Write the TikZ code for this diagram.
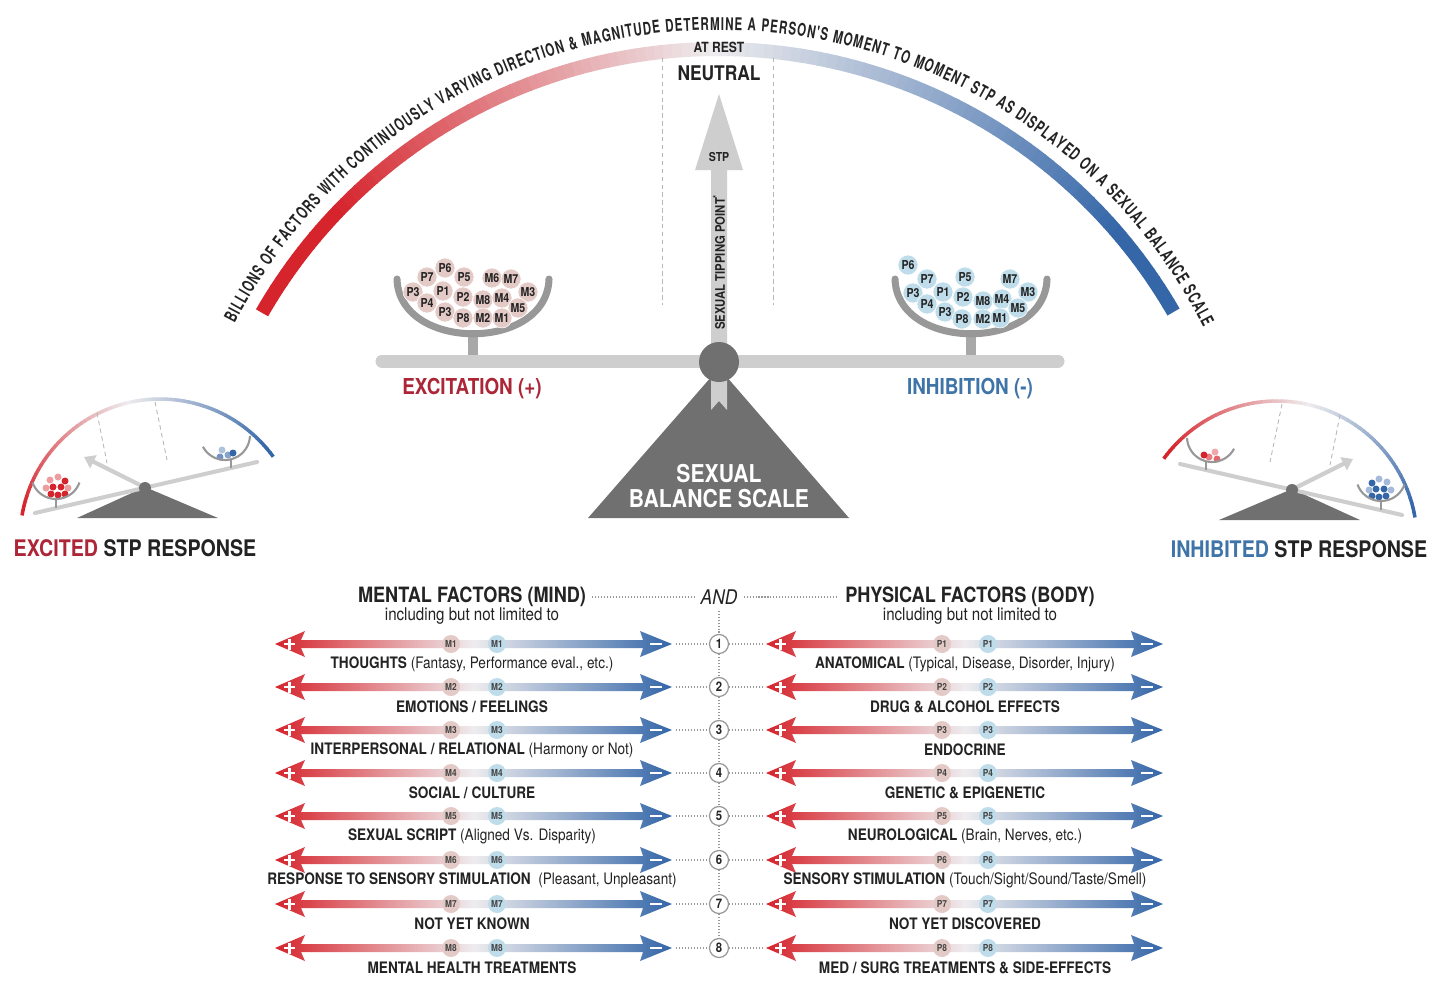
\documentclass[tikz,border=0pt]{standalone}
\usepackage{fontspec}
\setmainfont{TeX Gyre Heros}[FakeStretch=0.86]
\newfontfamily\arcfont{TeX Gyre Heros}[FakeStretch=0.66]
\usepackage{tikz}
\usetikzlibrary{arrows.meta,decorations.text}

\definecolor{exred}{RGB}{214,36,44}
\definecolor{exblue}{RGB}{52,102,168}
\definecolor{midc}{RGB}{238,236,238}
\definecolor{txred}{RGB}{172,38,56}
\definecolor{txblue}{RGB}{62,116,168}
\definecolor{beamgrey}{RGB}{206,206,206}
\definecolor{darkgrey}{RGB}{112,112,112}
\definecolor{bowlgrey}{RGB}{152,152,152}
\definecolor{pinkball}{RGB}{228,202,198}
\definecolor{blueball}{RGB}{190,220,234}
\definecolor{inkgrey}{RGB}{35,35,35}

\tikzset{
  bigball/.style={circle, inner sep=0pt, minimum size=0.4cm, draw=white, line width=0.3pt,
    font=\bfseries\fontsize{7}{7}\selectfont, text=inkgrey},
  rowball/.style={circle, inner sep=0pt, minimum size=0.36cm,
    font=\bfseries\fontsize{5.5}{5.5}\selectfont, text=inkgrey!85},
  numcirc/.style={circle, draw=bowlgrey, line width=0.7pt, fill=white, inner sep=0pt,
    minimum size=0.38cm, font=\bfseries\fontsize{7.5}{7.5}\selectfont},
  rowlabel/.style={font=\fontsize{9}{9}\selectfont, inner sep=1pt},
  dots/.style={draw=bowlgrey, line width=0.6pt, dash pattern=on 0.6pt off 1.1pt},
  guide/.style={draw=bowlgrey!70, line width=0.5pt, dash pattern=on 2.5pt off 2pt},
}

\begin{document}
\begin{tikzpicture}[x=0.02cm, y=-0.02cm, every node/.append style={text=inkgrey}]
\useasboundingbox (0,0) rectangle (1449,981);
\fill[white] (0,0) rectangle (1449,981);

% big meter arc
\foreach \a in {30,...,149}{
  \ifnum\a<90
    \pgfmathtruncatemacro\p{min(100,(90-\a)*2)}
    \fill[exblue!\p!midc] ({718+519*cos(\a)},{575-519*sin(\a)}) -- ({718+533*cos(\a)},{575-533*sin(\a)})
      -- ({718+533*cos(\a+1.1)},{575-533*sin(\a+1.1)}) -- ({718+519*cos(\a+1.1)},{575-519*sin(\a+1.1)}) -- cycle;
  \else
    \pgfmathtruncatemacro\p{min(100,(\a-90)*2.2)}
    \fill[exred!\p!midc] ({718+519*cos(\a)},{575-519*sin(\a)}) -- ({718+533*cos(\a)},{575-533*sin(\a)})
      -- ({718+533*cos(\a+1.1)},{575-533*sin(\a+1.1)}) -- ({718+519*cos(\a+1.1)},{575-519*sin(\a+1.1)}) -- cycle;
  \fi
}
\path[decorate, decoration={text along path, text align=fit to path, text color=inkgrey,
  text={|\arcfont\bfseries\fontsize{10}{10}\selectfont|BILLIONS OF FACTORS WITH CONTINUOUSLY VARYING DIRECTION {\&} MAGNITUDE DETERMINE A PERSON'S MOMENT TO MOMENT STP AS DISPLAYED ON A SEXUAL BALANCE SCALE}}]
  plot[domain=152.5:27, samples=90] ({718+545*cos(\x)},{575-545*sin(\x)});

\node[font=\bfseries\fontsize{8}{8}\selectfont] (rest) at (719,47) {AT REST};
\node[font=\bfseries\fontsize{11.5}{11.5}\selectfont] (neutral) at (719,73) {NEUTRAL};
\draw[guide] (662,58) -- (662,305);
\draw[guide] (773,58) -- (773,305);

% sexual tipping point arrow
\fill[beamgrey] (711,350) -- (711,170) -- (695,170) -- (719,94) -- (743,170) -- (727,170) -- (727,350) -- cycle;
\node[font=\bfseries\fontsize{7}{7}\selectfont] (stp) at (719,157) {STP};
\node[rotate=90, font=\bfseries\fontsize{7.5}{7.5}\selectfont] (tipping) at (719,262) {SEXUAL TIPPING POINT\textsuperscript{*}};

% stand, beam and bowls
\fill[darkgrey] (719,368) -- (849,518) -- (588,518) -- cycle;
\fill[beamgrey] (711,374) -- (727,374) -- (727,410) -- (719,401) -- (711,410) -- cycle;
\draw[bowlgrey!85, line width=5.5pt] (473,332) -- (473,358) (971,332) -- (971,358);
\draw[beamgrey, line width=7.4pt, line cap=round] (382,361) -- (1058,361);
\fill[darkgrey] (719,362) circle (20);
\node[align=center, text=white, font=\bfseries\fontsize{14}{14.5}\selectfont] (sbs) at (719,486) {SEXUAL\\BALANCE SCALE};

\draw[bowlgrey, line width=4pt, line cap=round] (397,279) .. controls (399,352) and (547,352) .. (549,279);
\draw[bowlgrey, line width=4pt, line cap=round] (895,279) .. controls (897,352) and (1045,352) .. (1047,279);
\foreach \lab/\px/\py [count=\i] in {P6/445/268, P7/427/277, P5/464/277, M6/492/278, M7/511/279,
  P3/413/292, P1/443/291, P2/463/297, M8/483/300, M4/502/298, M3/528/292, P4/427/303,
  M5/518/308, P3/445/312, P8/463/318, M2/483/318, M1/502/318}
  \node[bigball, fill=pinkball] (ex\i) at (\px,\py) {\lab};
\foreach \lab/\px/\py [count=\i] in {P6/908/265, P7/927/279, P5/965/277, M7/1010/279,
  P3/913/293, P1/943/292, P2/963/297, M8/983/301, M4/1002/299, M3/1028/292, P4/927/304,
  M5/1018/308, P3/945/312, P8/962/319, M2/983/319, M1/1000/318}
  \node[bigball, fill=blueball] (in\i) at (\px,\py) {\lab};

\node[font=\bfseries\fontsize{12.5}{12.5}\selectfont, text=txred] (excit) at (472,389) {EXCITATION (+)};
\node[font=\bfseries\fontsize{12.5}{12.5}\selectfont, text=txblue] (inhib) at (970,389) {INHIBITION (-)};

% small tilted scales
\foreach \sx/\dx/\dy/\ca/\cb/\hc/\lc in {1/0/0/exred/exblue/exred/exblue, -1/1437/2/exblue/exred/exblue/exred}{
  \begin{scope}[shift={(\dx,\dy)}, xscale=\sx]
    \foreach \b in {36,38,...,168}{
      \ifnum\b<102
        \pgfmathtruncatemacro\q{min(100,(102-\b)*1.6)}
        \draw[\cb!\q!midc, line width=2pt] ({160+140*cos(\b)},{539-140*sin(\b)}) -- ({160+140*cos(\b+2.3)},{539-140*sin(\b+2.3)});
      \else
        \pgfmathtruncatemacro\q{min(100,(\b-102)*1.6)}
        \draw[\ca!\q!midc, line width=2pt] ({160+140*cos(\b)},{539-140*sin(\b)}) -- ({160+140*cos(\b+2.3)},{539-140*sin(\b+2.3)});
      \fi
    }
    \draw[guide] (97,413) -- (107,463);
    \draw[guide] (155,402) -- (167,460);
    \fill[darkgrey] (77,518) -- (145,487) -- (218,518) -- cycle;
    \draw[beamgrey, line width=2.4pt, -{Triangle[length=6pt, width=8pt]}] (150,490) -- (84,457);
    \draw[beamgrey, line width=2.3pt, line cap=round] (35,513) -- (257,462);
    \fill[darkgrey] (145,488) circle (6);
    \foreach \u/\v/\s in {50/480/45, 58/477/45, 65/481/100, 46/488/45, 53/487/100, 61/487/100,
      68/488/45, 51/494/100, 58/495/100, 65/494/100}
      \fill[\hc!\s!white] (\u,\v) circle (3.5);
    \foreach \u/\v/\s in {222/450/40, 220/457/70, 228/455/60, 233/453/100}
      \fill[\lc!\s!white] (\u,\v) circle (3.5);
    \draw[bowlgrey, line width=1.2pt] plot[domain=200:340, samples=20] ({56+25*cos(\x)},{474-25*sin(\x)});
    \draw[bowlgrey, line width=1.2pt] plot[domain=208:358, samples=20] ({225+25*cos(\x)},{435-25*sin(\x)});
    \draw[bowlgrey, line width=0.9pt] (56,499) -- (56,508) (231,460) -- (231,468);
  \end{scope}
}
\node[font=\bfseries\fontsize{13}{13}\selectfont] (excited) at (135,548) {\textcolor{txred}{EXCITED} STP RESPONSE};
\node[font=\bfseries\fontsize{13}{13}\selectfont] (inhibited) at (1299,549) {\textcolor{txblue}{INHIBITED} STP RESPONSE};

% factor table
\node[font=\bfseries\fontsize{12}{12}\selectfont] (mental) at (472,597) {MENTAL FACTORS (MIND)};
\node[font=\fontsize{10}{10}\selectfont] (mentsub) at (472,616) {including but not limited to};
\node[font=\itshape\fontsize{11.5}{11.5}\selectfont] (and) at (719,597) {AND};
\node[font=\bfseries\fontsize{12}{12}\selectfont] (physical) at (970,597) {PHYSICAL FACTORS (BODY)};
\node[font=\fontsize{10}{10}\selectfont] (physsub) at (970,616) {including but not limited to};
\draw[dots] (mental) -- (and);
\draw[dots] (and) -- (physical);

\foreach \n/\y/\ml/\pl in {
  1/644/{\textbf{THOUGHTS} (Fantasy, Performance eval., etc.)}/{\textbf{ANATOMICAL} (Typical, Disease, Disorder, Injury)},
  2/687/{\textbf{EMOTIONS / FEELINGS}}/{\textbf{DRUG \& ALCOHOL EFFECTS}},
  3/730/{\textbf{INTERPERSONAL / RELATIONAL} (Harmony or Not)}/{\textbf{ENDOCRINE}},
  4/773/{\textbf{SOCIAL / CULTURE}}/{\textbf{GENETIC \& EPIGENETIC}},
  5/816/{\textbf{SEXUAL SCRIPT} (Aligned Vs. Disparity)}/{\textbf{NEUROLOGICAL} (Brain, Nerves, etc.)},
  6/860/{\textbf{RESPONSE TO SENSORY STIMULATION}\ \ (Pleasant, Unpleasant)}/{\textbf{SENSORY STIMULATION} (Touch/Sight/Sound/Taste/Smell)},
  7/904/{\textbf{NOT YET KNOWN}}/{\textbf{NOT YET DISCOVERED}},
  8/948/{\textbf{MENTAL HEALTH TREATMENTS}}/{\textbf{MED / SURG TREATMENTS \& SIDE-EFFECTS}}}{
  \foreach \dx/\c in {0/M, 491/P}{
    \begin{scope}[shift={(\dx,0)}]
      \shade[left color=exred, right color=exblue, middle color=midc]
        (275,\y) -- (305,\y-13) -- (301,\y-4) -- (643,\y-4) -- (640,\y-13) -- (672,\y)
        -- (640,\y+13) -- (643,\y+4) -- (301,\y+4) -- (305,\y+13) -- cycle;
      \draw[white, line width=1.3pt] (284,\y) -- (295,\y) (289.5,\y-5.5) -- (289.5,\y+5.5);
      \draw[white, line width=1.3pt] (650,\y) -- (662,\y);
      \node[rowball, fill=pinkball] (pk\c\n) at (451,\y) {\c\n};
      \node[rowball, fill=blueball] (bl\c\n) at (497,\y) {\c\n};
    \end{scope}
  }
  \node[rowlabel] (ml\n) at (472,\y+20) {\ml};
  \node[rowlabel] (pl\n) at (965,\y+20) {\pl};
  \coordinate (lt\n) at (676,\y);
  \coordinate (rt\n) at (762,\y);
  \node[numcirc] (n\n) at (719,\y) {\n};
  \draw[dots] (lt\n) -- (n\n);
  \draw[dots] (n\n) -- (rt\n);
}
\draw[dots] (and) -- (n1);
\foreach \a/\b in {1/2,2/3,3/4,4/5,5/6,6/7,7/8}
  \draw[dots] (n\a) -- (n\b);
\end{tikzpicture}
\end{document}
